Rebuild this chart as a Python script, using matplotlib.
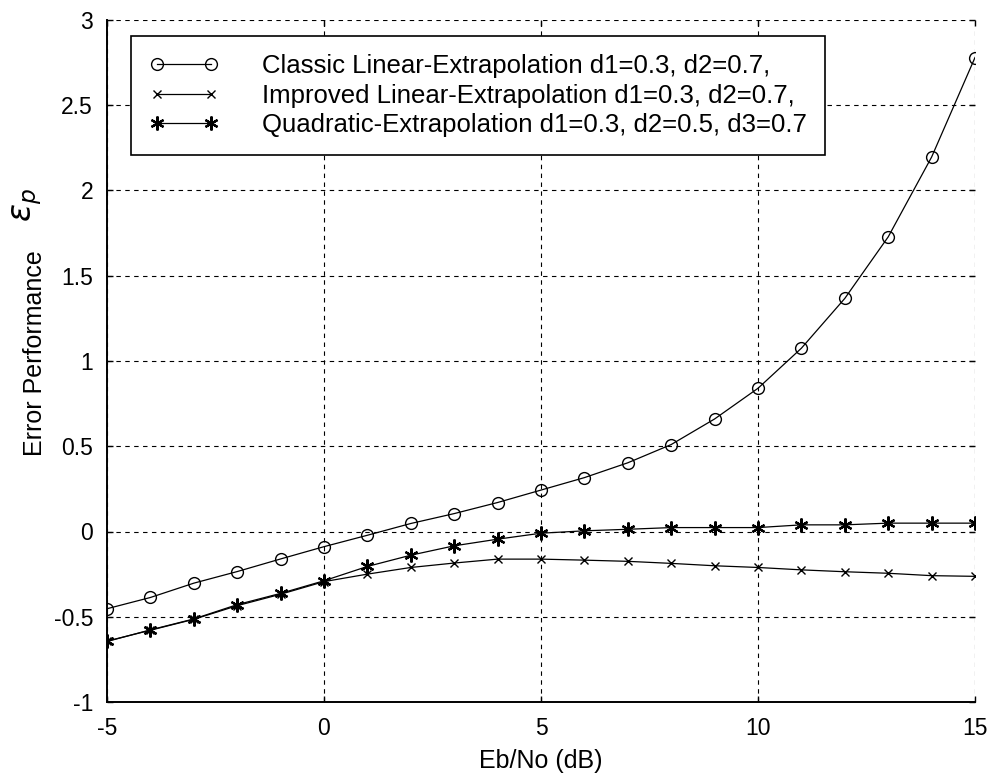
import numpy as np
import matplotlib
matplotlib.use('Agg')
import matplotlib.pyplot as plt

plt.rcParams['font.family'] = ['Liberation Sans', 'DejaVu Sans']
plt.rcParams['axes.unicode_minus'] = False

# Eb/No (dB)
ebno = list(range(-5, 16))

classic = [-0.453, -0.387, -0.303, -0.235, -0.161, -0.089, -0.022, 0.047,
           0.105, 0.170, 0.243, 0.316, 0.403, 0.510, 0.660, 0.840, 1.075,
           1.367, 1.728, 2.196, 2.780]
improved = [-0.643, -0.579, -0.515, -0.435, -0.368, -0.294, -0.250, -0.211,
            -0.185, -0.162, -0.162, -0.168, -0.175, -0.187, -0.201, -0.211,
            -0.225, -0.236, -0.245, -0.259, -0.263]
quadratic = [-0.645, -0.577, -0.513, -0.429, -0.363, -0.289, -0.205, -0.139,
             -0.084, -0.045, -0.010, 0.004, 0.013, 0.023, 0.023, 0.023,
             0.039, 0.039, 0.049, 0.049, 0.049]

labels = ['Classic Linear-Extrapolation d1=0.3, d2=0.7,',
          'Improved Linear-Extrapolation d1=0.3, d2=0.7,',
          'Quadratic-Extrapolation d1=0.3, d2=0.5, d3=0.7']

xticks = [-5, 0, 5, 10, 15]
yticks = [-1, -0.5, 0, 0.5, 1, 1.5, 2, 2.5, 3]
yticklabels = ['-1', '-0.5', '0', '0.5', '1', '1.5', '2', '2.5', '3']

fig = plt.figure(figsize=(9.9, 7.74), dpi=100)
ax = fig.add_axes([107/990, 1 - 702/774, 868/990, 682/774])

ax.plot(ebno, classic, color='k', lw=0.9, marker='o', ms=8.5,
        mfc='none', mec='k', mew=1.0, label=labels[0])
ax.plot(ebno, improved, color='k', lw=0.9, marker='x', ms=6,
        mec='k', mew=1.0, label=labels[1])
ax.plot(ebno, quadratic, color='k', lw=0.9, marker=(6, 2, 0), ms=10,
        mec='k', mew=1.6, label=labels[2])

ax.set_xlim(-5, 15)
ax.set_ylim(-1, 3)
ax.set_xticks(xticks)
ax.set_yticks(yticks)
ax.set_yticklabels(yticklabels)

ax.grid(True, color='k', lw=0.8, linestyle=(0, (4, 4)))
ax.tick_params(direction='in', length=4, width=1, labelsize=16.5,
               top=True, right=True, colors='k')
ax.tick_params(axis='y', pad=10)
ax.tick_params(axis='x', pad=11)
for side in ['top', 'right']:
    ax.spines[side].set_visible(False)
for side in ['left', 'bottom']:
    ax.spines[side].set_linewidth(1.4)

ax.set_xlabel('Eb/No (dB)', fontsize=18, labelpad=6)
fig.text(35/990, 1 - 353/774, 'Error Performance', rotation=90,
         ha='center', va='center', fontsize=18)
fig.text(27/990, 1 - 205/774, r'$\varepsilon_p$', rotation=90,
         ha='center', va='center', fontsize=24)

leg = ax.legend(loc='upper left', bbox_to_anchor=(24/868, 1 - 16/682),
                borderaxespad=0, numpoints=2, fontsize=18.5, fancybox=False,
                framealpha=1, edgecolor='k', handlelength=2.7,
                handletextpad=1.7, labelspacing=0.22, borderpad=0.7)
leg.get_frame().set_linewidth(1.2)

fig.savefig('out.png', dpi=100, facecolor='white')
